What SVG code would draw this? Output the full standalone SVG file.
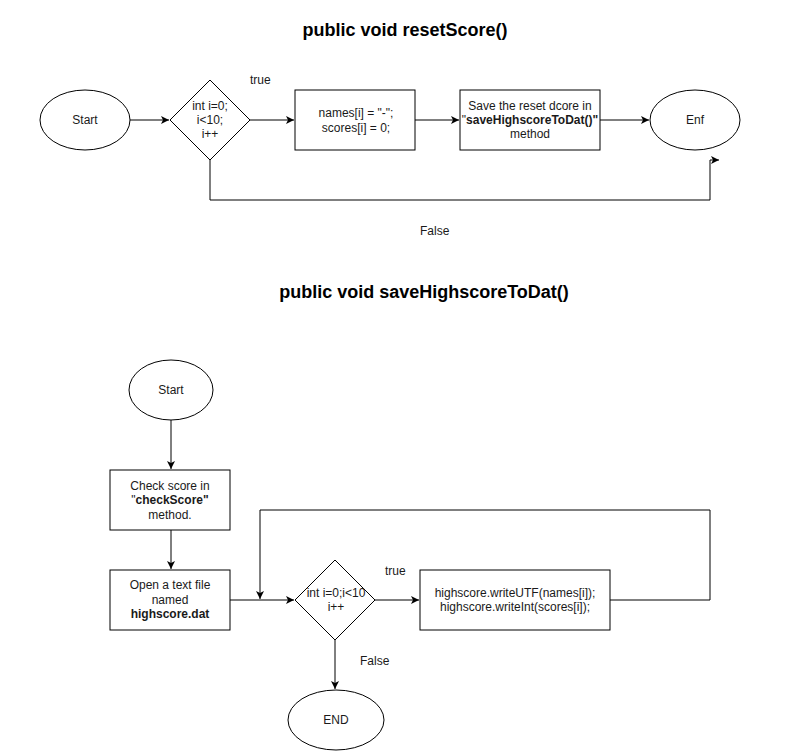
<svg xmlns="http://www.w3.org/2000/svg" width="811" height="751" viewBox="0 0 811 751">
<style>
.s{fill:#fff;stroke:#000;stroke-width:1}
.c{fill:none;stroke:#000;stroke-width:1}
text{font-family:"Liberation Sans",Arial,sans-serif;font-size:12px;fill:#1a1a1a}
.m{text-anchor:middle}
.t{font-size:18px;font-weight:bold;fill:#000}
.b{font-weight:bold}
</style>
<defs>
<marker id="a" markerWidth="10" markerHeight="10" refX="8" refY="4" orient="auto" markerUnits="userSpaceOnUse">
<path d="M0,0 L8,4 L0,8 L2,4 z" fill="#000"/>
</marker>
</defs>
<rect width="811" height="751" fill="#fff"/>
<text class="t m" x="405" y="36">public void resetScore()</text>
<text class="t m" x="424" y="298">public void saveHighscoreToDat()</text>
<g id="connectors">
<path class="c" d="M130,120 H169" marker-end="url(#a)"/>
<path class="c" d="M250,120 H294" marker-end="url(#a)"/>
<path class="c" d="M415,120 H459" marker-end="url(#a)"/>
<path class="c" d="M600,120 H649" marker-end="url(#a)"/>
<path class="c" d="M210,160 V200 H710 V160 H719" marker-end="url(#a)"/>
<path class="c" d="M171,420 V469" marker-end="url(#a)"/>
<path class="c" d="M171,530 V569" marker-end="url(#a)"/>
<path class="c" d="M230,600 H294" marker-end="url(#a)"/>
<path class="c" d="M375,600 H419" marker-end="url(#a)"/>
<path class="c" d="M610,600 H710 V510 H260 V599" marker-end="url(#a)"/>
<path class="c" d="M335,640 V689" marker-end="url(#a)"/>
<text x="250" y="84">true</text>
<text x="420" y="235">False</text>
<text x="385" y="575">true</text>
<text x="360" y="665">False</text>
</g>
<g id="start1"><ellipse class="s" cx="85" cy="120" rx="45" ry="30"/><text class="m" x="85" y="124">Start</text></g>
<g id="loop1"><path class="s" d="M210,80 L250,120 L210,160 L170,120 Z"/>
<text class="m" x="210" y="110">int i=0;</text><text class="m" x="210" y="124">i&lt;10;</text><text class="m" x="210" y="138">i++</text></g>
<g id="reset"><rect class="s" x="295" y="90" width="120" height="60"/>
<text class="m" x="356" y="117">names[i] = "-";</text><text class="m" x="356" y="132">scores[i] = 0;</text></g>
<g id="save"><rect class="s" x="460" y="90" width="140" height="60"/>
<text class="m" x="530" y="110">Save the reset dcore in</text>
<text class="m" x="530" y="124">"<tspan class="b">saveHighscoreToDat()"</tspan></text>
<text class="m" x="530" y="138">method</text></g>
<g id="end1"><ellipse class="s" cx="695" cy="120" rx="45" ry="30"/><text class="m" x="695" y="124">Enf</text></g>
<g id="start2"><ellipse class="s" cx="171" cy="390" rx="42" ry="30"/><text class="m" x="171" y="394">Start</text></g>
<g id="check"><rect class="s" x="110" y="470" width="120" height="60"/>
<text class="m" x="170" y="490">Check score in</text>
<text class="m" x="170" y="504">"<tspan class="b">checkScore"</tspan></text>
<text class="m" x="170" y="519">method.</text></g>
<g id="open"><rect class="s" x="110" y="570" width="120" height="60"/>
<text class="m" x="170" y="589">Open a text file</text>
<text class="m" x="170" y="604">named</text>
<text class="m b" x="170" y="618">highscore.dat</text></g>
<g id="loop2"><path class="s" d="M335,560 L375,600 L335,640 L295,600 Z"/>
<text class="m" x="336" y="597">int i=0;i&lt;10</text><text class="m" x="336" y="611">i++</text></g>
<g id="write"><rect class="s" x="420" y="570" width="190" height="60"/>
<text class="m" x="515" y="597">highscore.writeUTF(names[i]);</text>
<text class="m" x="515" y="611">highscore.writeInt(scores[i]);</text></g>
<g id="end2"><ellipse class="s" cx="336" cy="720" rx="48" ry="30"/><text class="m" x="336" y="724">END</text></g>
</svg>
